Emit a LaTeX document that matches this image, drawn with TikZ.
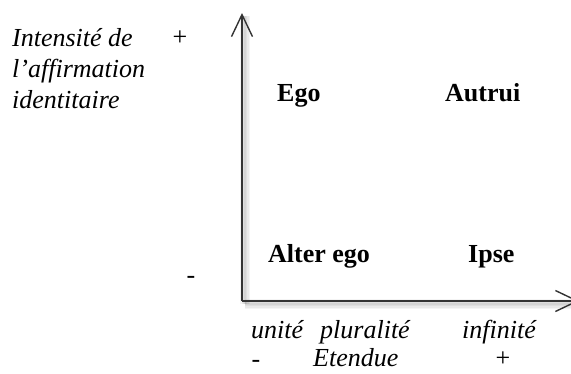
\documentclass[tikz,border=0pt]{standalone}
\usepackage{fontspec}
\setmainfont{Liberation Serif}
\usetikzlibrary{arrows.meta}
\begin{document}
\begin{tikzpicture}[x=1pt,y=-1pt,
  lbl/.style={inner sep=0pt,anchor=base west,font=\fontsize{26}{31}\selectfont},
  lbli/.style={lbl,font=\fontsize{26}{31}\selectfont\itshape},
  lblb/.style={lbl,font=\fontsize{26}{31}\selectfont\bfseries},
  axis/.style={line width=1.4pt,draw=black!80,-{Straight Barb[length=22pt,width=21pt,line width=1.4pt]}},
  shade/.style={line width=#1,draw=black,opacity=0.045}]
\clip (0,0) rectangle (571,373);
\fill[white] (0,0) rectangle (571,373);
\coordinate (O) at (242,301);
\coordinate (T) at (242,13);
\coordinate (R) at (579,301);
% soft shadow
\foreach \w in {10,7,4.5,2.5}{
  \draw[shade=\w pt] ([shift={(3,3)}]O) -- ([shift={(3,3)}]T);
  \draw[shade=\w pt] ([shift={(3,3)}]O) -- ([shift={(3,3)}]R);
}
\draw[axis] (O) -- (T);
\draw[axis] (O) -- (R);
% y-axis label
\node[lbli] (yl1) at (12,46) {Intensité de};
\node[lbli] (yl2) at (12,77) {l’affirmation};
\node[lbli] (yl3) at (12,108) {identitaire};
\node[lbl,anchor=base] (yplus) at (180,45) {+};
\node[lbl,anchor=base] (yminus) at (191,283) {-};
% quadrants
\node[lblb] (ego) at (277,101) {Ego};
\node[lblb] (autrui) at (445,101) {Autrui};
\node[lblb] (alter) at (268,262) {Alter ego};
\node[lblb] (ipse) at (468,262) {Ipse};
% x-axis labels
\node[lbli] (unite) at (251,338) {unité};
\node[lbli] (plural) at (320,338) {pluralité};
\node[lbli] (infini) at (462,338) {infinité};
\node[lbl,anchor=base] (xminus) at (256,367) {-};
\node[lbli] (etendue) at (313,366) {Etendue};
\node[lbl,anchor=base] (xplus) at (503,366) {+};
\end{tikzpicture}
\end{document}
